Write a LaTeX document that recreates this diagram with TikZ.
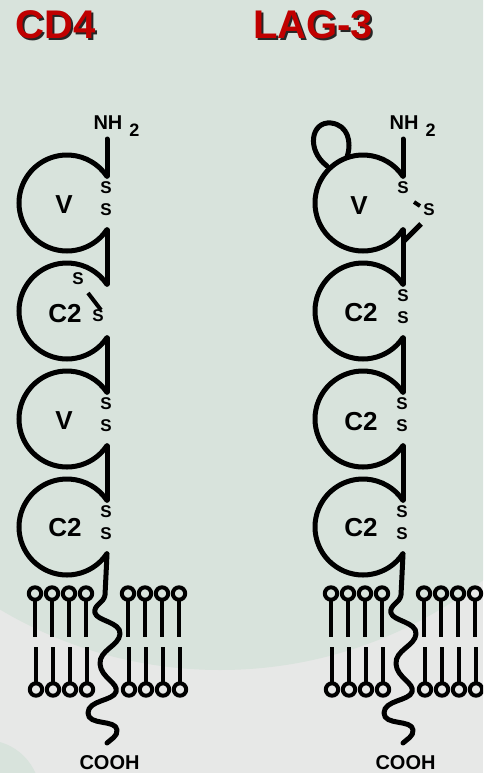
\documentclass[tikz,border=0pt]{standalone}
\usepackage{fontspec}
\setmainfont{Liberation Sans}
\definecolor{bggreen}{RGB}{216,227,220}
\definecolor{bggray}{RGB}{231,232,231}
\definecolor{titlered}{RGB}{192,0,0}
\tikzset{
  chain/.style={line width=5pt, line cap=round, line join=round},
  tail/.style={line width=4.5pt},
  head/.style={line width=4pt},
  lbl/.style={font=\bfseries\fontsize{26}{26}\selectfont, inner sep=0pt},
  sslbl/.style={font=\bfseries\fontsize{17}{17}\selectfont, inner sep=0pt},
  endlbl/.style={font=\bfseries\fontsize{20}{20}\selectfont, inner sep=0pt},
  sublbl/.style={font=\bfseries\fontsize{18}{18}\selectfont, inner sep=0pt, anchor=base},
  titlelbl/.style={font=\bfseries\fontsize{40}{40}\selectfont, inner sep=0pt, anchor=base west},
}
\begin{document}
\begin{tikzpicture}[x=1pt,y=-1pt]
\clip (0,0) rectangle (483,773);
% background
\fill[bggray] (0,0) rectangle (483,773);
\fill[bggreen] (220,240) circle[radius=430pt];
\fill[bggreen] (-15,795) circle[radius=55pt];
% titles (red with dark drop shadow)
\node[titlelbl, text=black!85] (t1s) at (17.5,40.5) {CD4};
\node[titlelbl, text=titlered] (t1) at (15.5,38.5) {CD4};
\node[titlelbl, text=black!85] (t2s) at (255,40.5) {LAG-3};
\node[titlelbl, text=titlered] (t2) at (253,38.5) {LAG-3};

% common parts for both molecules
\foreach \dx/\nm in {0/a,296/b}{
\begin{scope}[xshift=\dx pt]
  % domains (open circles)
  \foreach \cy in {203,311,419,527}{
    \draw[chain] (67,\cy) ++(34:48) arc (34:326:48);
  }
  % backbone segments
  \draw[chain] (107,139) -- (107,176.2);
  \draw[chain] (107,229.8) -- (107,284.2);
  \draw[chain] (107,337.8) -- (107,392.2);
  \draw[chain] (107,445.8) -- (107,500.2);
  \draw[chain] (107,553.8) -- (106,575) -- (105,595)
     .. controls (104,603) and (93,605) .. (95,613)
     .. controls (97,621) and (121,622) .. (120,634)
     .. controls (119,646) and (99,650) .. (100,664)
     .. controls (101,678) and (119,683) .. (116,692)
     .. controls (113,701) and (88,700) .. (88,713)
     .. controls (88,726) and (116,719) .. (117,730)
     .. controls (118,736) and (110,740) .. (107,743);
  % membrane
  \foreach \x in {35,52,69,86,128,145,162,179}{
    \draw[head] (\x,593.5) circle[radius=6.2pt];
    \draw[tail] (\x,599) -- (\x,637);
    \draw[tail] (\x+1,647) -- (\x+1,684);
    \draw[head] (\x+1,689.5) circle[radius=6.2pt];
  }
  \node[sublbl, font=\bfseries\fontsize{20}{20}\selectfont] (nh\nm) at (108,129) {NH};
  \node[sublbl] (nhs\nm) at (134.5,136) {2};
  \node[endlbl] (cooh\nm) at (109.5,763) {COOH};
  \node[sslbl] (s3a\nm) at (106,404) {S};
  \node[sslbl] (s3b\nm) at (106,426) {S};
  \node[sslbl] (s4a\nm) at (106,512) {S};
  \node[sslbl] (s4b\nm) at (106,534) {S};
\end{scope}
}
% CD4 specifics
\node[lbl] (cdv1) at (64,205) {V};
\node[lbl] (cdc1) at (65,314) {C2};
\node[lbl] (cdv2) at (64,421) {V};
\node[lbl] (cdc2) at (65,528) {C2};
\node[sslbl] (cds1a) at (106,188) {S};
\node[sslbl] (cds1b) at (106,210) {S};
\node[sslbl] (cds2a) at (78,279) {S};
\node[sslbl] (cds2b) at (98,316) {S};
\draw[line width=4pt] (88,293) -- (101,310);

% LAG-3 specifics
\node[lbl] (lgv1) at (359,206) {V};
\node[lbl] (lgc1) at (361,313) {C2};
\node[lbl] (lgc2) at (361,422) {C2};
\node[lbl] (lgc3) at (361,528) {C2};
\node[sslbl] (lgs1a) at (403,188) {S};
\node[sslbl] (lgs1b) at (429,210) {S};
\draw[line width=4pt] (414,202) -- (420,206);
\draw[line width=5pt] (421,224) -- (403,242);
\node[sslbl] (lgs2a) at (403,296) {S};
\node[sslbl] (lgs2b) at (403,318) {S};
\draw[chain] (327,166) .. controls (306,150) and (311,121) .. (331,123)
   .. controls (348,125) and (352,142) .. (347,157);
\end{tikzpicture}
\end{document}
